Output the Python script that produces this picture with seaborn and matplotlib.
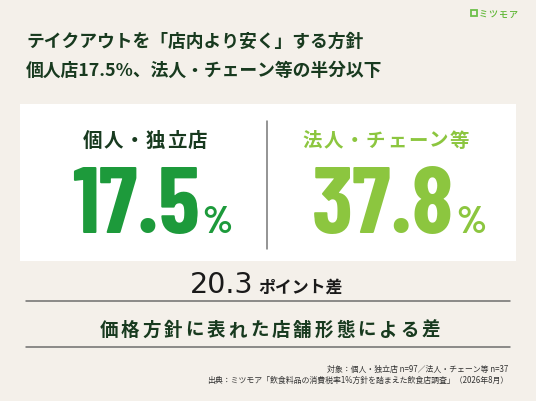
import matplotlib
matplotlib.use("Agg")
import matplotlib.pyplot as plt
import matplotlib.patches as mpatches
import seaborn as sns

# data
groups = ["個人・独立店", "法人・チェーン等"]
shares = [17.5, 37.8]          # % that price takeout lower than dine-in
sample_sizes = [97, 37]
title_lines = ["テイクアウトを「店内より安く」する方針",
               "個人店17.5%、法人・チェーン等の半分以下"]
subtitle = "価格方針に表れた店舗形態による差"
source = "出典：ミツモア「飲食料品の消費税率1%方針を踏まえた飲食店調査」（2026年8月）"
brand = "ミツモア"

sns.set_theme(style="white")
plt.rcParams["font.family"] = ["Noto Sans CJK JP", "DejaVu Sans"]

BG = "#f4f0ea"
DARK = "#183a1f"
COLORS = ["#1d9a3b", "#8cc63f"]
LABEL_COLORS = [DARK, "#8cc63f"]
NUM_FONT = ["Barlow Condensed", "Roboto Condensed", "Noto Sans CJK JP"]

fig = plt.figure(figsize=(5.36, 4.02), dpi=100, facecolor=BG)
ax = fig.add_axes([0, 0, 1, 1])
ax.set_xlim(0, 536)
ax.set_ylim(402, 0)
ax.set_facecolor(BG)
ax.axis("off")


def spaced(cx, y, s, step, **kw):
    # full-width text with extra letter spacing, one glyph at a time
    x0 = cx - step * (len(s) - 1) / 2
    for i, ch in enumerate(s):
        ax.text(x0 + i * step, y, ch, ha="center", va="baseline", **kw)


# logo
ax.add_patch(mpatches.Rectangle((470.5, 10.5), 6.5, 6.5, fill=False,
                                edgecolor="#6cc04a", lw=1.3))
spaced(498, 17.5, brand, 10, fontsize=6.5, color="#5bb531", fontweight="medium")

# title
for i, line in enumerate(title_lines):
    ax.text(26, 46.8 + i * 29, line, ha="left", va="baseline",
            fontsize=12.8, fontweight="bold", color=DARK)

# white panel with divider
ax.add_patch(mpatches.Rectangle((20, 105), 496, 157, facecolor="white",
                                edgecolor="none"))
ax.plot([267, 267], [122, 250], color="#777777", lw=1.1)

label_cx = [145, 386]
num_right = [200, 454]
pct_left = [202, 456]
for i in range(len(groups)):
    spaced(label_cx[i], 146.6, groups[i], 21, fontsize=14,
           fontweight="bold", color=LABEL_COLORS[i])
    ax.text(num_right[i], 233, f"{shares[i]:.1f}", ha="right", va="baseline",
            fontsize=68, fontweight="bold", color=COLORS[i], family=NUM_FONT)
    ax.text(pct_left[i], 233, "%", ha="left", va="baseline",
            fontsize=28, fontweight="bold", color=COLORS[i], family=NUM_FONT)

# difference
diff = shares[1] - shares[0]
ax.text(253, 293, f"{diff:.1f}", ha="right", va="baseline", fontsize=20.5,
        color="#1a1a1a", family=["DejaVu Sans"])
ax.text(258, 293, "ポイント差", ha="left", va="baseline", fontsize=12.2,
        fontweight="bold", color="#1a1a1a")

# ruled subtitle
for yy in [302, 348]:
    ax.plot([26, 510], [yy, yy], color="#6e6e6e", lw=1.1)
spaced(270, 335.7, subtitle, 21.5, fontsize=13.3, fontweight="bold", color=DARK)

# footnotes
note = f"対象：{groups[0]} n={sample_sizes[0]}／{groups[1]} n={sample_sizes[1]}"
ax.text(508, 372, note, ha="right", va="baseline", fontsize=5.7, color="#333333")
ax.text(508, 383, source, ha="right", va="baseline", fontsize=5.7, color="#333333")

fig.savefig("out.png", dpi=100, facecolor=BG)
